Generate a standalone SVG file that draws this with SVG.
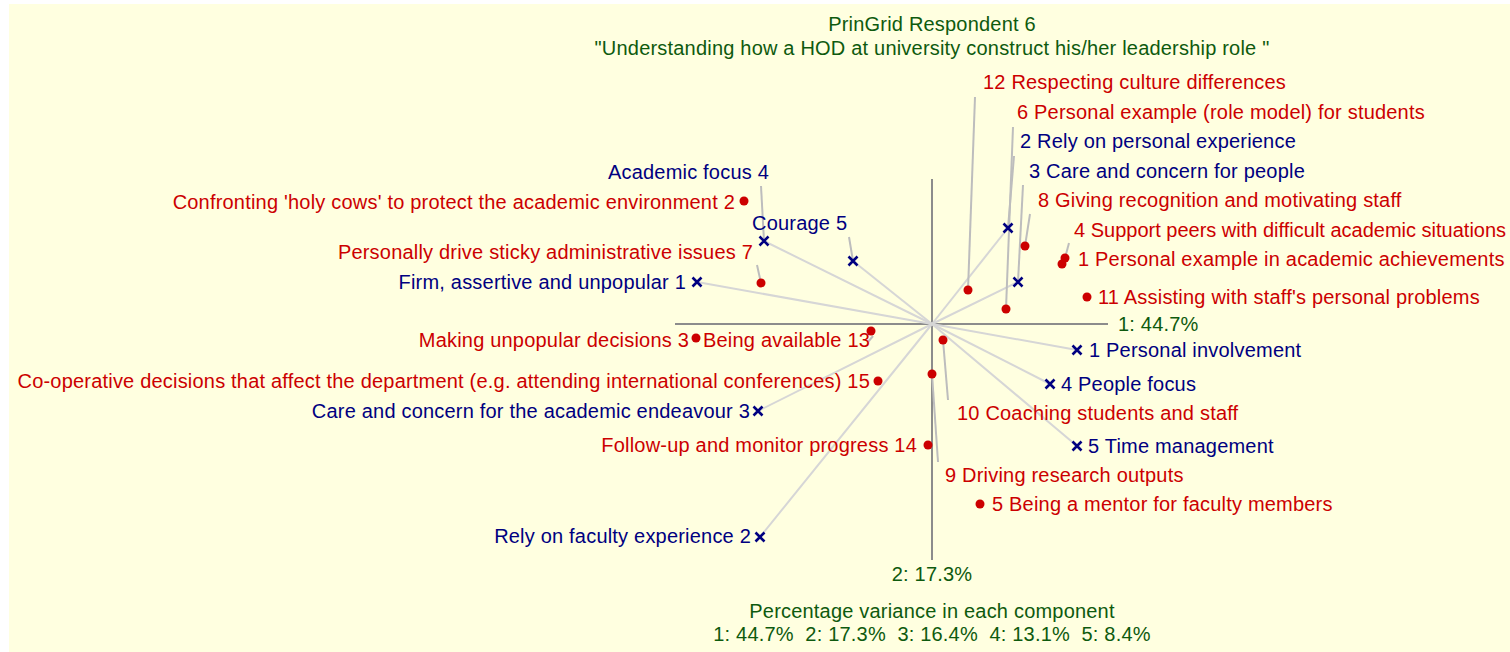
<svg xmlns="http://www.w3.org/2000/svg" width="1510" height="652" viewBox="0 0 1510 652">
<style>
text{font-family:"Liberation Sans",Arial,sans-serif;font-size:20px;letter-spacing:0.2px}
.g{fill:#0e5a0e}
.r{fill:#cc0000}
.b{fill:#000080}
.e{text-anchor:end}
.m{text-anchor:middle}
.axis{stroke:#8c8c8c;stroke-width:2;fill:none}
.ray{stroke:#d6d6d6;stroke-width:2;fill:none}
.lead{stroke:#bdbdbd;stroke-width:2;fill:none}
.dot{fill:#cc0000}
.x{stroke:#000080;stroke-width:2.6;fill:none}
</style>
<defs>
<path id="xm" d="M-4.5,-4.5L4.5,4.5M4.5,-4.5L-4.5,4.5"/>
</defs>
<rect x="0" y="0" width="1510" height="652" fill="#ffffff"/>
<rect x="9" y="4" width="1501" height="648" fill="#ffffe0"/>

<g id="title">
<text class="g m" x="932" y="31">PrinGrid Respondent 6</text>
<text class="g m" x="932" y="55">"Understanding how a HOD at university construct his/her leadership role "</text>
</g>

<g id="axes">
<line class="axis" x1="675" y1="324" x2="1108" y2="324"/>
<line class="axis" x1="932" y1="179" x2="932" y2="560"/>
<text class="g" x="1118" y="331">1: 44.7%</text>
<text class="g m" x="932" y="581">2: 17.3%</text>
</g>

<g id="connectors">
<line class="ray" x1="932" y1="324" x2="697" y2="282"/>
<line class="ray" x1="932" y1="324" x2="764" y2="241"/>
<line class="ray" x1="932" y1="324" x2="853" y2="261"/>
<line class="ray" x1="932" y1="324" x2="758" y2="411"/>
<line class="ray" x1="932" y1="324" x2="760" y2="537"/>
<line class="ray" x1="932" y1="324" x2="1008" y2="228"/>
<line class="ray" x1="932" y1="324" x2="1018" y2="282"/>
<line class="ray" x1="932" y1="324" x2="1077" y2="350"/>
<line class="ray" x1="932" y1="324" x2="1050" y2="384"/>
<line class="ray" x1="932" y1="324" x2="1077" y2="446"/>
<line class="lead" x1="968" y1="290" x2="975" y2="97"/>
<line class="lead" x1="1006" y1="309" x2="1013" y2="127"/>
<line class="lead" x1="1008" y1="228" x2="1014" y2="156"/>
<line class="lead" x1="1018" y1="282" x2="1023" y2="185"/>
<line class="lead" x1="1025" y1="246" x2="1030" y2="214"/>
<line class="lead" x1="1065" y1="258" x2="1069" y2="243"/>
<line class="lead" x1="943" y1="340" x2="948" y2="400"/>
<line class="lead" x1="932" y1="374" x2="938" y2="462"/>
<line class="lead" x1="764" y1="241" x2="761" y2="186"/>
<line class="lead" x1="853" y1="261" x2="849" y2="237"/>
<line class="lead" x1="761" y1="283" x2="757" y2="265"/>
<line class="lead" x1="873" y1="336" x2="868" y2="342"/>
</g>

<g id="e12"><circle class="dot" cx="968" cy="290" r="4.5"/><text class="r" x="983" y="89">12 Respecting culture differences</text></g>
<g id="e6"><circle class="dot" cx="1006" cy="309" r="4.5"/><text class="r" x="1017" y="119">6 Personal example (role model) for students</text></g>
<g id="c2r"><use href="#xm" class="x" x="1008" y="228"/><text class="b" x="1020" y="148">2 Rely on personal experience</text></g>
<g id="c3r"><use href="#xm" class="x" x="1018" y="282"/><text class="b" x="1029" y="178">3 Care and concern for people</text></g>
<g id="e8"><circle class="dot" cx="1025" cy="246" r="4.5"/><text class="r" x="1038" y="207">8 Giving recognition and motivating staff</text></g>
<g id="e4"><circle class="dot" cx="1065" cy="258" r="4.5"/><text class="r" x="1074" y="237" style="letter-spacing:0px">4 Support peers with difficult academic situations</text></g>
<g id="e1"><circle class="dot" cx="1062" cy="264" r="4.5"/><text class="r" x="1078" y="266">1 Personal example in academic achievements</text></g>
<g id="e11"><circle class="dot" cx="1087" cy="297" r="4.5"/><text class="r" x="1098" y="304">11 Assisting with staff's personal problems</text></g>
<g id="c1r"><use href="#xm" class="x" x="1077" y="350"/><text class="b" x="1089" y="357">1 Personal involvement</text></g>
<g id="c4r"><use href="#xm" class="x" x="1050" y="384"/><text class="b" x="1061" y="391">4 People focus</text></g>
<g id="e10"><circle class="dot" cx="943" cy="340" r="4.5"/><text class="r" x="957" y="420">10 Coaching students and staff</text></g>
<g id="c5r"><use href="#xm" class="x" x="1077" y="446"/><text class="b" x="1088" y="453">5 Time management</text></g>
<g id="e9"><circle class="dot" cx="932" cy="374" r="4.5"/><text class="r" x="945" y="482">9 Driving research outputs</text></g>
<g id="e5"><circle class="dot" cx="980" cy="504" r="4.5"/><text class="r" x="992" y="511">5 Being a mentor for faculty members</text></g>

<g id="c4l"><use href="#xm" class="x" x="764" y="241"/><text class="b e" x="769" y="179">Academic focus 4</text></g>
<g id="e2"><circle class="dot" cx="744" cy="201" r="4.5"/><text class="r e" x="735" y="209">Confronting 'holy cows' to protect the academic environment 2</text></g>
<g id="c5l"><use href="#xm" class="x" x="853" y="261"/><text class="b" x="752" y="230">Courage 5</text></g>
<g id="e7"><circle class="dot" cx="761" cy="283" r="4.5"/><text class="r e" x="753" y="259">Personally drive sticky administrative issues 7</text></g>
<g id="c1l"><use href="#xm" class="x" x="697" y="282"/><text class="b e" x="686" y="289">Firm, assertive and unpopular 1</text></g>
<g id="e3"><circle class="dot" cx="696" cy="338" r="4.5"/><text class="r e" x="689" y="347">Making unpopular decisions 3</text></g>
<g id="e13"><circle class="dot" cx="871" cy="331" r="4.5"/><text class="r" x="703" y="347">Being available 13</text></g>
<g id="e15"><circle class="dot" cx="878" cy="381" r="4.5"/><text class="r e" x="870" y="388">Co-operative decisions that affect the department (e.g. attending international conferences) 15</text></g>
<g id="c3l"><use href="#xm" class="x" x="758" y="411"/><text class="b e" x="750" y="418">Care and concern for the academic endeavour 3</text></g>
<g id="e14"><circle class="dot" cx="928" cy="445" r="4.5"/><text class="r e" x="917" y="452">Follow-up and monitor progress 14</text></g>
<g id="c2l"><use href="#xm" class="x" x="760" y="537"/><text class="b e" x="751" y="543">Rely on faculty experience 2</text></g>

<g id="footer">
<text class="g m" x="932" y="618">Percentage variance in each component</text>
<text class="g m" x="932" y="641" xml:space="preserve">1: 44.7%  2: 17.3%  3: 16.4%  4: 13.1%  5: 8.4%</text>
</g>
</svg>
